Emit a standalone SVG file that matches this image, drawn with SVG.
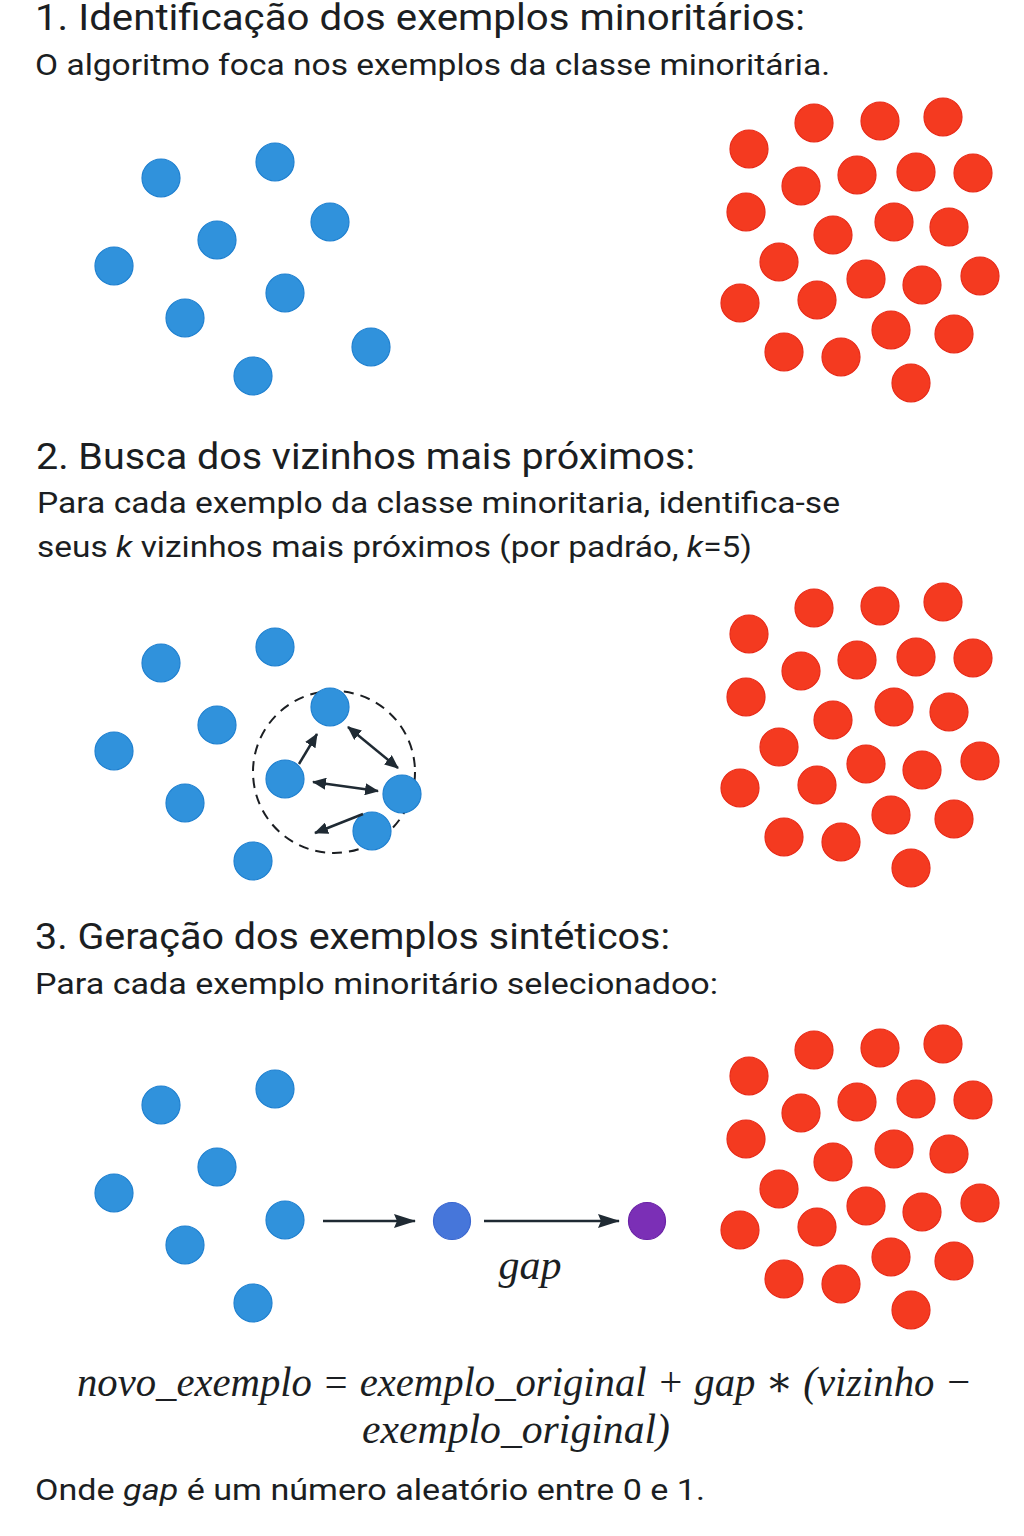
<svg xmlns="http://www.w3.org/2000/svg" width="1024" height="1536" viewBox="0 0 1024 1536">
<defs>
<style>
.h{font-family:Roboto,"Liberation Sans",sans-serif;font-size:36px;fill:#1b1e22}
.t{font-family:Roboto,"Liberation Sans",sans-serif;font-size:30px;fill:#1b1e22}
.m{font-family:"Liberation Serif","DejaVu Serif",serif;font-style:italic;font-size:42px;fill:#1b1e22}
.b{fill:#3092dc;stroke:#1f80d0;stroke-width:1.2}
.r{fill:#f43a20;stroke:#e82a18;stroke-width:1.2}
.a{stroke:#1f2a33;stroke-width:2.5;fill:none}
</style>
<marker id="ah" markerUnits="userSpaceOnUse" markerWidth="14" markerHeight="12" refX="13" refY="6" orient="auto-start-reverse"><path d="M0,0 L14,6 L0,12 Z" fill="#1f2a33"/></marker>
<marker id="ah2" markerUnits="userSpaceOnUse" markerWidth="22" markerHeight="14" refX="21" refY="7" orient="auto"><path d="M0,0 L22,7 L0,14 L3,7 Z" fill="#1f2a33"/></marker>
<g id="blue1">
<circle class="b" cx="161" cy="178" r="19"/><circle class="b" cx="275" cy="162" r="19"/><circle class="b" cx="217" cy="240" r="19"/><circle class="b" cx="114" cy="266" r="19"/><circle class="b" cx="185" cy="318" r="19"/><circle class="b" cx="253" cy="376" r="19"/>
</g>
<g id="red">
<circle class="r" cx="814" cy="123" r="19"/><circle class="r" cx="880" cy="121" r="19"/><circle class="r" cx="943" cy="117" r="19"/><circle class="r" cx="749" cy="149" r="19"/><circle class="r" cx="801" cy="186" r="19"/><circle class="r" cx="857" cy="175" r="19"/><circle class="r" cx="916" cy="172" r="19"/><circle class="r" cx="973" cy="173" r="19"/><circle class="r" cx="746" cy="212" r="19"/><circle class="r" cx="833" cy="235" r="19"/><circle class="r" cx="894" cy="222" r="19"/><circle class="r" cx="949" cy="227" r="19"/><circle class="r" cx="779" cy="262" r="19"/><circle class="r" cx="866" cy="279" r="19"/><circle class="r" cx="922" cy="285" r="19"/><circle class="r" cx="980" cy="276" r="19"/><circle class="r" cx="740" cy="303" r="19"/><circle class="r" cx="817" cy="300" r="19"/><circle class="r" cx="891" cy="330" r="19"/><circle class="r" cx="954" cy="334" r="19"/><circle class="r" cx="784" cy="352" r="19"/><circle class="r" cx="841" cy="357" r="19"/><circle class="r" cx="911" cy="383" r="19"/>
</g>
</defs>
<rect width="1024" height="1536" fill="#ffffff"/>

<g id="section1">
<text class="h" x="35" y="30" textLength="770" lengthAdjust="spacingAndGlyphs">1. Identificação dos exemplos minoritários:</text>
<text class="t" x="35" y="75" textLength="795" lengthAdjust="spacingAndGlyphs">O algoritmo foca nos exemplos da classe minoritária.</text>
<g id="minority1"><use href="#blue1"/><circle class="b" cx="330" cy="222" r="19"/><circle class="b" cx="285" cy="293" r="19"/><circle class="b" cx="371" cy="347" r="19"/></g>
<g id="majority1"><use href="#red"/></g>
</g>

<g id="section2">
<text class="h" x="36" y="469" textLength="659" lengthAdjust="spacingAndGlyphs">2. Busca dos vizinhos mais próximos:</text>
<text class="t" x="37" y="513" textLength="803" lengthAdjust="spacingAndGlyphs">Para cada exemplo da classe minoritaria, identifica-se</text>
<text class="t" x="37" y="557" textLength="715" lengthAdjust="spacingAndGlyphs">seus <tspan font-style="italic">k</tspan> vizinhos mais próximos (por padráo, <tspan font-style="italic">k</tspan>=5)</text>
<g id="neighborhood"><circle cx="334" cy="772" r="81" fill="none" stroke="#1b1e22" stroke-width="2" stroke-dasharray="10 7"/></g>
<g id="minority2"><use href="#blue1" y="485"/><circle class="b" cx="330" cy="707" r="19"/><circle class="b" cx="285" cy="779" r="19"/><circle class="b" cx="402" cy="794" r="19"/><circle class="b" cx="372" cy="831" r="19"/></g>
<g id="majority2"><use href="#red" y="485"/></g>
</g>

<g id="section3">
<text class="h" x="35" y="949" textLength="635" lengthAdjust="spacingAndGlyphs">3. Geração dos exemplos sintéticos:</text>
<text class="t" x="35" y="994" textLength="683" lengthAdjust="spacingAndGlyphs">Para cada exemplo minoritário selecionadoo:</text>
<g id="minority3"><use href="#blue1" y="927"/><circle class="b" cx="285" cy="1220" r="19"/></g>
<g id="synthetic"><circle cx="452" cy="1221" r="18.5" fill="#4676da" stroke="#3a66cf" stroke-width="1.2"/></g>
<g id="neighbor"><circle cx="647" cy="1221" r="18.5" fill="#7b2fb6" stroke="#6a22a6" stroke-width="1.2"/></g>
<g id="majority3"><use href="#red" y="927"/></g>
<text class="m" x="530" y="1279" text-anchor="middle" font-size="42">gap</text>
</g>

<g id="connectors">
<line class="a" x1="299" y1="764" x2="317" y2="734" marker-end="url(#ah)"/>
<line class="a" x1="348" y1="727" x2="398" y2="768" marker-start="url(#ah)" marker-end="url(#ah)"/>
<line class="a" x1="313" y1="782" x2="378" y2="791" marker-start="url(#ah)" marker-end="url(#ah)"/>
<line class="a" x1="363" y1="814" x2="315" y2="833" marker-end="url(#ah)"/>
<line class="a" x1="323" y1="1221" x2="415" y2="1221" stroke-width="2.2" marker-end="url(#ah2)"/>
<line class="a" x1="484" y1="1221" x2="619" y2="1221" stroke-width="2.2" marker-end="url(#ah2)"/>
</g>

<g id="formula">
<text class="m" x="77" y="1396" textLength="895" lengthAdjust="spacingAndGlyphs">novo_exemplo = exemplo_original + gap ∗ (vizinho −</text>
<text class="m" x="362" y="1443" textLength="308" lengthAdjust="spacingAndGlyphs">exemplo_original)</text>
<text class="t" x="35" y="1500" textLength="670" lengthAdjust="spacingAndGlyphs">Onde <tspan font-style="italic">gap</tspan> é um número aleatório entre 0 e 1.</text>
</g>
</svg>
